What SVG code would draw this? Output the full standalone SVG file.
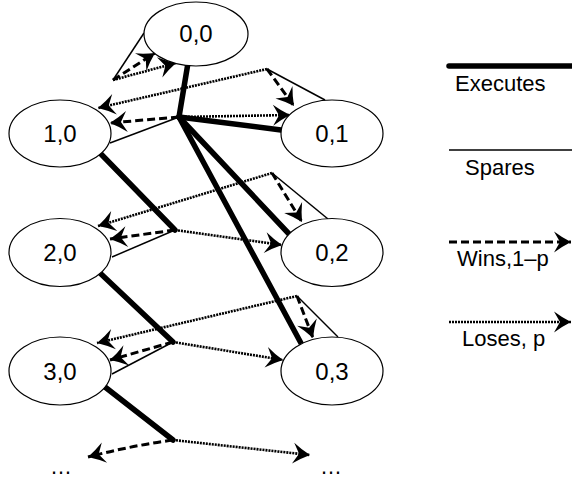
<svg xmlns="http://www.w3.org/2000/svg" width="572" height="479" viewBox="0 0 572 479">
<style>
.node ellipse{fill:#fff;stroke:#000;stroke-width:1.2}
text{font-family:"Liberation Sans",Arial,sans-serif;fill:#000}
.lbl{font-size:24px;text-anchor:middle}
.leg{font-size:22px}
.exe{stroke:#000;stroke-width:5.5;stroke-linecap:round;fill:none}
.spa{stroke:#000;stroke-width:1.5;fill:none}
.win{stroke:#000;stroke-width:3;stroke-dasharray:8 4;fill:none;marker-end:url(#ah)}
.los{stroke:#000;stroke-width:2.6;stroke-dasharray:2 1;fill:none;marker-end:url(#ah)}
</style>
<defs>
<marker id="ah" markerUnits="userSpaceOnUse" viewBox="-18 -12 19 24" refX="0" refY="0" markerWidth="19" markerHeight="24" orient="auto" overflow="visible">
<path d="M0,0 Q-9,-4.5 -17,-10.5 L-11,0 L-17,10.5 Q-9,4.5 0,0 Z" fill="#000"/>
</marker>
</defs>
<g id="connectors">
<line class="exe" x1="188" y1="63" x2="179" y2="117"/>
<line class="exe" x1="179" y1="117" x2="281" y2="130"/>
<line class="exe" x1="179" y1="117" x2="290" y2="235"/>
<line class="exe" x1="179" y1="117" x2="302" y2="345"/>
<line class="exe" x1="100" y1="153" x2="175" y2="230"/>
<line class="exe" x1="100" y1="273" x2="173" y2="342"/>
<line class="exe" x1="105" y1="387" x2="173" y2="440"/>
<line class="spa" x1="144" y1="33" x2="113" y2="80"/>
<line class="spa" x1="325" y1="100" x2="267" y2="69"/>
<line class="spa" x1="179" y1="117" x2="110" y2="143"/>
<line class="spa" x1="328" y1="219" x2="272" y2="173"/>
<line class="spa" x1="175" y1="230" x2="112" y2="257"/>
<line class="spa" x1="338" y1="337" x2="297" y2="296"/>
<line class="spa" x1="173" y1="342" x2="112" y2="374"/>
<path class="win" d="M113,80 L155,53"/>
<path class="win" d="M267,69 L294,106"/>
<path class="win" d="M179,117 L110,123"/>
<path class="win" d="M272,173 L302,222"/>
<path class="win" d="M175,230 L110,239"/>
<path class="win" d="M297,296 L313,338"/>
<path class="win" d="M173,342 L110,360"/>
<path class="win" d="M173,440 Q130,446 88,457"/>
<path class="los" d="M113,80 L176,63"/>
<path class="los" d="M267,69 L98,108"/>
<path class="los" d="M179,117 L290,115"/>
<path class="los" d="M272,173 L98,226"/>
<path class="los" d="M175,230 L282,245"/>
<path class="los" d="M297,296 L97,343"/>
<path class="los" d="M173,342 L283,360"/>
<path class="los" d="M173,440 L310,455"/>
</g>
<g id="n00" class="node"><ellipse cx="196" cy="34" rx="52" ry="32"/><text class="lbl" x="196" y="42">0,0</text></g>
<g id="n10" class="node"><ellipse cx="60" cy="133.5" rx="51" ry="33.5"/><text class="lbl" x="60" y="142">1,0</text></g>
<g id="n01" class="node"><ellipse cx="332" cy="133.5" rx="51" ry="33.5"/><text class="lbl" x="332" y="142">0,1</text></g>
<g id="n20" class="node"><ellipse cx="60" cy="252.5" rx="51" ry="34"/><text class="lbl" x="60" y="261">2,0</text></g>
<g id="n02" class="node"><ellipse cx="332" cy="252.5" rx="51" ry="34"/><text class="lbl" x="332" y="261">0,2</text></g>
<g id="n30" class="node"><ellipse cx="60" cy="371" rx="51" ry="34"/><text class="lbl" x="60" y="379.5">3,0</text></g>
<g id="n03" class="node"><ellipse cx="332" cy="371" rx="51" ry="34"/><text class="lbl" x="332" y="379.5">0,3</text></g>
<g id="more">
<text class="leg" x="61" y="474" text-anchor="middle">…</text>
<text class="leg" x="331" y="474" text-anchor="middle">…</text>
</g>
<g id="legend">
<line class="exe" x1="449" y1="66" x2="580" y2="66"/>
<text class="leg" x="455" y="91">Executes</text>
<line class="spa" x1="449" y1="150" x2="572" y2="150"/>
<text class="leg" x="465" y="175">Spares</text>
<path class="win" d="M449,242 L571,242"/>
<text class="leg" x="457" y="266">Wins,1–p</text>
<path class="los" d="M449,322 L571,322"/>
<text class="leg" x="462" y="346">Loses, p</text>
</g>
</svg>
